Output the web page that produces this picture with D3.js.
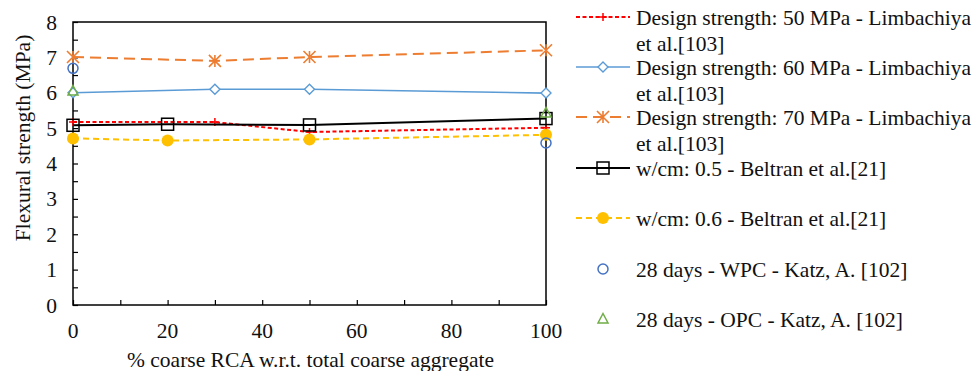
<!DOCTYPE html>
<html>
<head>
<meta charset="utf-8">
<script src="https://cdn.jsdelivr.net/npm/d3@7"></script>
<style>
  html, body { margin: 0; padding: 0; background: #fff; }
</style>
</head>
<body>
<div id="chart"></div>
<script>
// data
const rcaLimbachiya = [0, 30, 50, 100];
const rcaBeltran = [0, 20, 50, 100];
const rcaKatz = [0, 100];

const ds50 = [5.17, 5.17, 4.89, 5.01];
const ds60 = [6.0, 6.1, 6.1, 5.99];
const ds70 = [7.01, 6.9, 7.01, 7.2];
const wcm05 = [5.08, 5.11, 5.09, 5.27];
const wcm06 = [4.71, 4.65, 4.68, 4.81];
const wpc = [6.69, 4.58];
const opc = [6.05, 5.43];

const yTicks = [0, 1, 2, 3, 4, 5, 6, 7, 8];
const xTicks = [0, 20, 40, 60, 80, 100];

const series = [
  { label: ['Design strength: 50 MPa - Limbachiya', 'et al.[103]'], x: rcaLimbachiya, y: ds50,
    color: '#ff0000', dash: '4,2.5', width: 2, marker: 'plus', line: true },
  { label: ['Design strength: 60 MPa - Limbachiya', 'et al.[103]'], x: rcaLimbachiya, y: ds60,
    color: '#5b9bd5', dash: null, width: 1.6, marker: 'diamond', line: true },
  { label: ['Design strength: 70 MPa - Limbachiya', 'et al.[103]'], x: rcaLimbachiya, y: ds70,
    color: '#ed7d31', dash: '11,6', width: 2, marker: 'star', line: true },
  { label: ['w/cm: 0.5 - Beltran et al.[21]'], x: rcaBeltran, y: wcm05,
    color: '#000000', dash: null, width: 2, marker: 'square', line: true },
  { label: ['w/cm: 0.6 - Beltran et al.[21]'], x: rcaBeltran, y: wcm06,
    color: '#ffc000', dash: '6,4', width: 2, marker: 'dot', line: true },
  { label: ['28 days - WPC - Katz, A. [102]'], x: rcaKatz, y: wpc,
    color: '#4472c4', dash: null, width: 1.5, marker: 'circle', line: false },
  { label: ['28 days - OPC - Katz, A. [102]'], x: rcaKatz, y: opc,
    color: '#70ad47', dash: null, width: 1.5, marker: 'triangle', line: false }
];

const FONT = "'Liberation Serif', 'Times New Roman', serif";
const FS = '21.5px';

const width = 976, height = 371;
const margin = { top: 22, right: 430, bottom: 66, left: 73 };
const innerWidth = width - margin.left - margin.right;
const innerHeight = height - margin.top - margin.bottom;

const svg = d3.select('#chart').append('svg')
  .attr('width', width)
  .attr('height', height)
  .style('display', 'block');

const g = svg.append('g')
  .attr('transform', `translate(${margin.left},${margin.top})`);

const xScale = d3.scaleLinear().domain([0, 100]).range([0, innerWidth]);
const yScale = d3.scaleLinear().domain([0, 8]).range([innerHeight, 0]);

function label(sel) {
  return sel.style('font-family', FONT).style('font-size', FS).style('fill', '#111');
}

// frame
g.append('rect')
  .attr('width', innerWidth).attr('height', innerHeight)
  .attr('fill', 'none').attr('stroke', '#000').attr('stroke-width', 1.5);

// axes with inward ticks
const yAxis = g.append('g')
  .call(d3.axisLeft(yScale).tickValues(d3.range(0, 8.01, 0.5)).tickSize(-5).tickFormat(''));
yAxis.select('.domain').remove();
yAxis.selectAll('line').attr('stroke', '#000').attr('stroke-width', 1.2);

g.append('g').selectAll('text')
  .data(yTicks).enter().append('text')
  .attr('x', -16).attr('y', d => yScale(d)).attr('dy', '0.35em')
  .attr('text-anchor', 'end')
  .call(label)
  .text(d => d);

const xAxis = g.append('g')
  .attr('transform', `translate(0,${innerHeight})`)
  .call(d3.axisBottom(xScale).tickValues(d3.range(0, 101, 10)).tickSize(-5).tickFormat(''));
xAxis.select('.domain').remove();
xAxis.selectAll('line').attr('stroke', '#000').attr('stroke-width', 1.2);

g.append('g').selectAll('text')
  .data(xTicks).enter().append('text')
  .attr('x', d => xScale(d)).attr('y', innerHeight + 33)
  .attr('text-anchor', 'middle')
  .call(label)
  .text(d => d);

// axis titles
svg.append('text')
  .attr('transform', 'translate(22,138) rotate(-90)')
  .attr('text-anchor', 'middle').attr('dy', '0.35em')
  .call(label)
  .text('Flexural strength (MPa)');

svg.append('text')
  .attr('x', margin.left + innerWidth / 2 + 1).attr('y', 367)
  .attr('text-anchor', 'middle')
  .call(label)
  .text('% coarse RCA w.r.t. total coarse aggregate');

// marker drawing
function drawMarker(sel, s) {
  const c = s.color;
  switch (s.marker) {
    case 'plus':
      sel.append('path').attr('d', 'M-4,0H4M0,-4V4')
        .attr('stroke', c).attr('stroke-width', 1.5).attr('fill', 'none');
      break;
    case 'diamond':
      sel.append('path').attr('d', 'M0,-5L5,0L0,5L-5,0Z')
        .attr('stroke', c).attr('stroke-width', 1.4).attr('fill', '#fff');
      break;
    case 'star':
      sel.append('path').attr('d', 'M-6,-6L6,6M-6,6L6,-6M0,-6V6')
        .attr('stroke', c).attr('stroke-width', 1.6).attr('fill', 'none');
      break;
    case 'square':
      sel.append('rect').attr('x', -6).attr('y', -6).attr('width', 12).attr('height', 12)
        .attr('stroke', c).attr('stroke-width', 1.5).attr('fill', 'none');
      break;
    case 'dot':
      sel.append('circle').attr('r', 6).attr('fill', c);
      break;
    case 'circle':
      sel.append('circle').attr('r', 5)
        .attr('stroke', c).attr('stroke-width', 1.5).attr('fill', 'none');
      break;
    case 'triangle':
      sel.append('path').attr('d', 'M0,-5.5L5,4L-5,4Z')
        .attr('stroke', c).attr('stroke-width', 1.5).attr('fill', 'none');
      break;
  }
}

const line = d3.line().x(d => xScale(d[0])).y(d => yScale(d[1]));

series.forEach(s => {
  const pts = s.x.map((x, i) => [x, s.y[i]]);
  if (s.line) {
    g.append('path').datum(pts)
      .attr('d', line)
      .attr('fill', 'none')
      .attr('stroke', s.color)
      .attr('stroke-width', s.width)
      .attr('stroke-dasharray', s.dash);
  }
  pts.forEach(p => {
    const m = g.append('g').attr('transform', `translate(${xScale(p[0])},${yScale(p[1])})`);
    drawMarker(m, s);
  });
});

// legend
const legendRows = [17, 67, 117, 168, 218, 269, 319];
const legend = svg.append('g');
series.forEach((s, i) => {
  const y = legendRows[i];
  const item = legend.append('g').attr('transform', `translate(0,${y})`);
  if (s.line) {
    item.append('line').attr('x1', 576).attr('x2', 630).attr('y1', 0).attr('y2', 0)
      .attr('stroke', s.color).attr('stroke-width', s.width)
      .attr('stroke-dasharray', s.dash);
  }
  drawMarker(item.append('g').attr('transform', 'translate(603,0)'), s);
  s.label.forEach((t, j) => {
    item.append('text')
      .attr('x', 636).attr('y', j * 26).attr('dy', '0.35em')
      .call(label)
      .text(t);
  });
});
</script>
</body>
</html>
